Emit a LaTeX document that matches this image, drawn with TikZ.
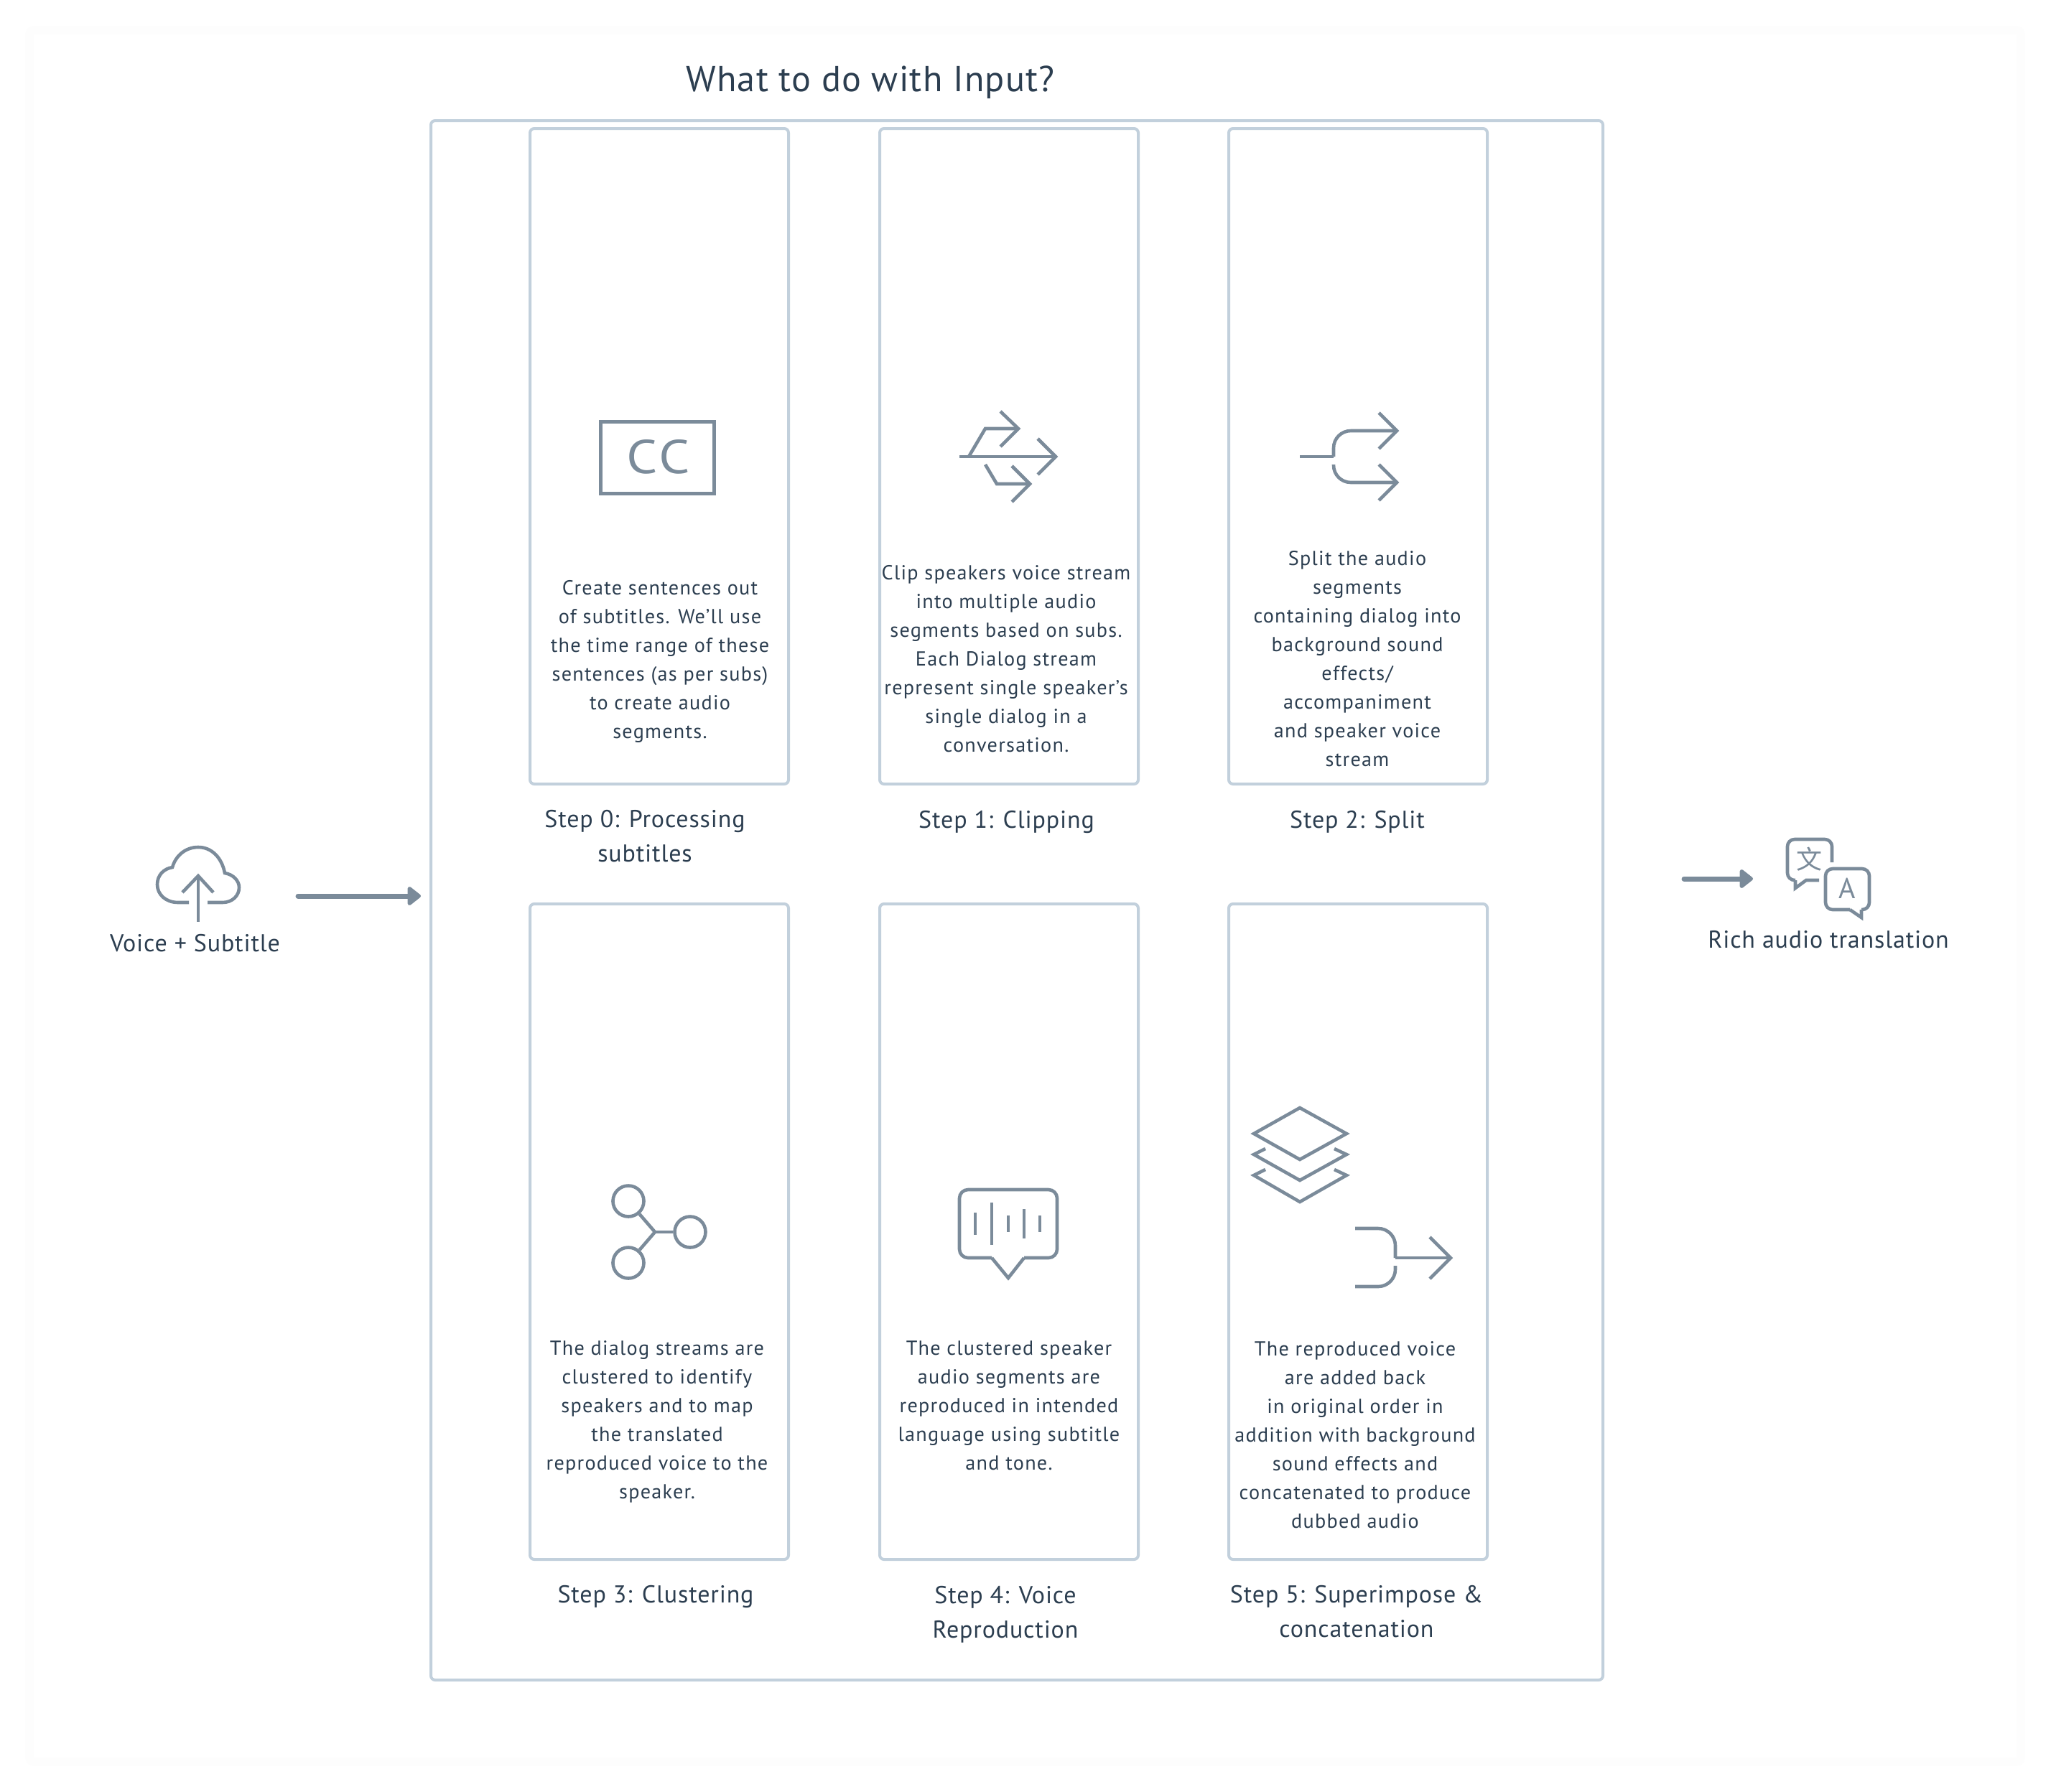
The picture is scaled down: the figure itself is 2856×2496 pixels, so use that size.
\documentclass[tikz,border=0pt]{standalone}
\usepackage{fontspec}
\setmainfont[LetterSpace=2.5]{PT Sans}
\newfontfamily\descfont[LetterSpace=4.5]{PT Sans}
\newfontfamily\iconfont{PT Sans}
\newfontfamily\ccfont[LetterSpace=6,FakeStretch=1.15]{PT Sans}
\newfontfamily\cjkicon{Noto Sans CJK SC}
\usetikzlibrary{arrows.meta}
\definecolor{icongray}{HTML}{7B8B9A}
\definecolor{boxgray}{HTML}{C2D0DC}
\definecolor{inkdark}{HTML}{2C3E50}
\definecolor{pagebg}{HTML}{FDFDFD}
\tikzset{
    stepbox/.style={draw=boxgray,line width=2pt,rounded corners=3pt,minimum width=180pt,minimum height=456.5pt},
    outerbox/.style={draw=boxgray,line width=2pt,rounded corners=3pt,minimum width=816pt,minimum height=1086pt},
    desc/.style={align=center,text=inkdark,font=\descfont\fontsize{14.1}{20}\selectfont},
    steplabel/.style={align=center,text=inkdark,font=\fontsize{17}{24}\selectfont},
    icon/.style={draw=icongray,line width=2.3pt},
    flowarrow/.style={draw=icongray,line width=3.5pt,line cap=round,-{Triangle[length=10pt,width=15pt,round]}},
}
\begin{document}
\begin{tikzpicture}[x=0.5pt,y=-0.5pt]
    \useasboundingbox (0,0) rectangle (2856,2496);
    \draw[draw=pagebg,line width=6pt,fill=white,rounded corners=3pt] (41,42) rectangle (2814,2454);
    \node[align=center,text=inkdark,font=\fontsize{25.1}{30}\selectfont] (title) at (1212,115) {What to do with Input?};
    \node[outerbox,fill=white] (outer) at (1416,1254) {};
    % step boxes
    \node[stepbox] (b0) at (918,635.5) {};
    \node[stepbox] (b1) at (1405,635.5) {};
    \node[stepbox] (b2) at (1891,635.5) {};
    \node[stepbox] (b3) at (918,1715.5) {};
    \node[stepbox] (b4) at (1405,1715.5) {};
    \node[stepbox] (b5) at (1891,1715.5) {};
    % texts inside
    \node[desc] (t0) at (919,921) {Create sentences out\\of subtitles. We’ll use\\the time range of these\\sentences (as per subs)\\to create audio\\segments.};
    \node[desc] (t1) at (1401,918) {Clip speakers voice stream\\into multiple audio\\segments based on subs.\\Each Dialog stream\\represent single speaker’s\\single dialog in a\\conversation.};
    \node[desc] (t2) at (1890,918) {Split the audio\\segments\\containing dialog into\\background sound\\effects/\\accompaniment\\and speaker voice\\stream};
    \node[desc] (t3) at (915,1980) {The dialog streams are\\clustered to identify\\speakers and to map\\the translated\\reproduced voice to the\\speaker.};
    \node[desc] (t4) at (1405,1958) {The clustered speaker\\audio segments are\\reproduced in intended\\language using subtitle\\and tone.};
    \node[desc] (t5) at (1887,1998.5) {The reproduced voice\\are added back\\in original order in\\addition with background\\sound effects and\\concatenated to produce\\dubbed audio};
    % captions
    \node[steplabel] (l0) at (898,1164.5) {Step 0: Processing\\subtitles};
    \node[steplabel] (l1) at (1401.5,1145) {Step 1: Clipping};
    \node[steplabel] (l2) at (1890,1145) {Step 2: Split};
    \node[steplabel] (l3) at (913,2224) {Step 3: Clustering};
    \node[steplabel] (l4) at (1400,2249) {Step 4: Voice\\Reproduction};
    \node[steplabel] (l5) at (1889,2245) {Step 5: Superimpose \&\\concatenation};
    \node[steplabel] (lin) at (271.5,1314) {Voice + Subtitle};
    \node[steplabel] (lout) at (2546,1309) {Rich audio translation};
    % flow arrows
    \coordinate (ina) at (415,1248);
    \coordinate (inb) at (586,1248);
    \coordinate (outa) at (2345,1224);
    \coordinate (outb) at (2441,1224);
    \draw[flowarrow] (ina) -- (inb);
    \draw[flowarrow] (outa) -- (outb);
    % cloud
    \draw[icon] (263,1257) -- (248,1257) .. controls (231,1257) and (219,1246) .. (219,1232) .. controls (219,1219) and (228,1210) .. (240,1208) .. controls (245,1191) and (259,1180) .. (276,1180) .. controls (295,1180) and (309,1195) .. (313,1216) .. controls (325,1218) and (333,1227) .. (333,1236) .. controls (333,1248) and (323,1257) .. (310,1257) -- (289,1257);
    \draw[icon] (276,1284) -- (276,1220);
    \draw[icon] (254,1243) -- (276,1220) -- (297,1243);
    % translate bubbles
    \draw[icon,rounded corners=5pt] (2551,1201) -- (2551,1169) -- (2489,1169) -- (2489,1226) -- (2500,1226);
    \draw[icon] (2500,1226) -- (2500,1237) -- (2515,1226) -- (2533,1226);
    \draw[icon,rounded corners=5pt] (2576,1267) -- (2542,1267) -- (2542,1210) -- (2603,1210) -- (2603,1267) -- (2592,1267);
    \draw[icon] (2576,1267) -- (2592,1278) -- (2592,1267);
    \node[text=icongray,font=\cjkicon\fontsize{18}{18}\selectfont,inner sep=0pt] (wen) at (2519,1197) {文};
    \node[text=icongray,font=\iconfont\fontsize{20}{20}\selectfont,inner sep=0pt] (aa) at (2572,1237) {A};
    % cc
    \draw[icon,line width=2.5pt] (836,587) rectangle (994,687);
    \node[text=icongray,font=\ccfont\fontsize{33}{33}\selectfont,inner sep=0pt] (cc) at (917,636) {CC};
    % clip
    \draw[icon] (1336,636) -- (1470,636);
    \draw[icon] (1445,611) -- (1470,636) -- (1445,661);
    \draw[icon] (1349,636) -- (1372,597) -- (1418,597);
    \draw[icon] (1393,573) -- (1418,597) -- (1393,622);
    \draw[icon] (1372,647) -- (1388,674) -- (1434,674);
    \draw[icon] (1409,649) -- (1434,674) -- (1409,699);
    % split
    \draw[icon] (1810,636) -- (1857,636);
    \draw[icon,rounded corners=12pt] (1857,636) -- (1857,600) -- (1945,600);
    \draw[icon] (1920,575) -- (1945,600) -- (1920,625);
    \draw[icon,rounded corners=12pt] (1857,647) -- (1857,672) -- (1945,672);
    \draw[icon] (1920,647) -- (1945,672) -- (1920,697);
    % cluster
    \node[icon,circle,minimum size=21.5pt,inner sep=0pt] (ca) at (875,1673) {};
    \node[icon,circle,minimum size=21.5pt,inner sep=0pt] (cb) at (961,1716) {};
    \node[icon,circle,minimum size=21.5pt,inner sep=0pt] (cc3) at (875,1759) {};
    \coordinate (hub) at (912,1716);
    \draw[icon] (ca) -- (hub);
    \draw[icon] (cc3) -- (hub);
    \draw[icon] (cb) -- (hub);
    % voice bubble
    \draw[icon,rounded corners=6pt] (1381,1752) -- (1336,1752) -- (1336,1657) -- (1472,1657) -- (1472,1752) -- (1426,1752);
    \draw[icon] (1381,1752) -- (1404,1780) -- (1426,1752);
    \draw[icon] (1358,1689) -- (1358,1720);
    \draw[icon] (1381,1675) -- (1381,1734);
    \draw[icon] (1404,1693) -- (1404,1716);
    \draw[icon] (1426,1684) -- (1426,1725);
    \draw[icon] (1448,1693) -- (1448,1716);
    % layers
    \draw[icon] (1746,1579) -- (1810,1543) -- (1875,1579) -- (1810,1615) -- cycle;
    \draw[icon] (1762,1600) -- (1746,1608) -- (1810,1644) -- (1875,1608) -- (1858,1600);
    \draw[icon] (1762,1629) -- (1746,1637) -- (1810,1674) -- (1875,1637) -- (1858,1629);
    % merge
    \draw[icon,rounded corners=12pt] (1887,1711) -- (1943,1711) -- (1943,1752);
    \draw[icon,rounded corners=12pt] (1887,1792) -- (1943,1792) -- (1943,1763);
    \draw[icon] (1943,1752) -- (2020,1752);
    \draw[icon] (1991,1723) -- (2020,1752) -- (1991,1781);
\end{tikzpicture}
\end{document}
